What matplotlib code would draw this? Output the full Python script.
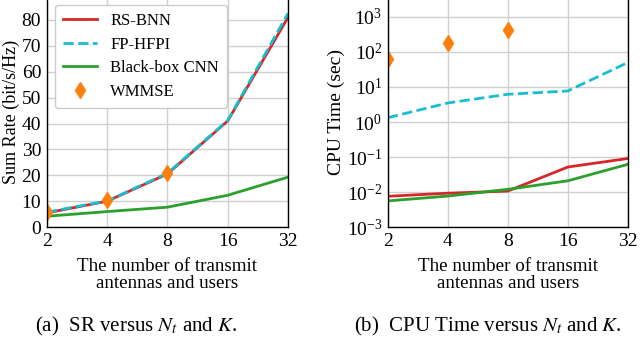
import matplotlib
matplotlib.use("Agg")
import matplotlib.pyplot as plt
import numpy as np

plt.rcParams['font.family'] = ['Liberation Serif', 'DejaVu Serif']
plt.rcParams['mathtext.fontset'] = 'stix'

# antenna / user counts
n_values = [2, 4, 8, 16, 32]
n_labels = ['2', '4', '8', '16', '32']

# sum rate (bit/s/Hz)
sr_rsbnn = [5.5, 10.0, 20.5, 41.0, 81.0]
sr_fphfpi = [5.8, 10.1, 20.8, 41.2, 82.5]
sr_cnn = [4.2, 6.0, 7.7, 12.3, 19.3]
sr_wmmse = [6.0, 10.5, 20.8]

# cpu time (sec)
t_rsbnn = [0.0076, 0.0093, 0.0107, 0.052, 0.091]
t_fphfpi = [1.33, 3.5, 6.2, 7.7, 50.0]
t_cnn = [0.0056, 0.0077, 0.012, 0.021, 0.062]
t_wmmse = [65.0, 180.0, 435.0]

red = '#d62728'
cyan = '#17becf'
green = '#2ca02c'
orange = '#ff7f0e'

fig = plt.figure(figsize=(6.4, 3.39), dpi=100)
ax1 = fig.add_axes([0.073, 0.330, 0.377, 0.68])
ax2 = fig.add_axes([0.606, 0.330, 0.375, 0.68])

wm_n = n_values[:len(sr_wmmse)]

ax1.plot(n_values, sr_rsbnn, color=red, lw=2, label='RS-BNN')
ax1.plot(n_values, sr_fphfpi, color=cyan, lw=2, ls='--', label='FP-HFPI')
ax1.plot(n_values, sr_cnn, color=green, lw=2, label='Black-box CNN')
ax1.plot(wm_n, sr_wmmse, ls='none', marker='d', color=orange, ms=8, label='WMMSE')
ax1.set_ylim(0, 89)
ax1.set_yticks(np.arange(0, 81, 10))
ax1.set_ylabel('Sum Rate (bit/s/Hz)', fontsize=13, labelpad=1)
leg = ax1.legend(loc='upper left', fontsize=12, handlelength=2.0, borderpad=0.5,
                 labelspacing=0.45, framealpha=1)

ax2.plot(n_values, t_rsbnn, color=red, lw=2)
ax2.plot(n_values, t_fphfpi, color=cyan, lw=2, ls='--')
ax2.plot(n_values, t_cnn, color=green, lw=2)
ax2.plot(wm_n, t_wmmse, ls='none', marker='d', color=orange, ms=8)
ax2.set_yscale('log')
ax2.set_ylim(1e-3, 3800)
ax2.set_yticks([1e-3, 1e-2, 1e-1, 1e0, 1e1, 1e2, 1e3])
ax2.minorticks_off()
ax2.set_ylabel('CPU Time (sec)', fontsize=14, labelpad=1)

for ax in (ax1, ax2):
    ax.set_xscale('log', base=2)
    ax.set_xlim(2, 32)
    ax.set_xticks(n_values)
    ax.set_xticklabels(n_labels)
    ax.minorticks_off()
    ax.tick_params(labelsize=14, length=0, pad=4)
    ax.grid(True, color='#d0d0d0', lw=1)
    ax.set_axisbelow(True)
    ax.set_xlabel('The number of transmit\nantennas and users', fontsize=13.7,
                  linespacing=1.0, labelpad=6)
    for s in ax.spines.values():
        s.set_color('black')
        s.set_linewidth(1.0)

fig.text(0.2125, 0.038, r'(a)  SR versus $N_t$ and $K$.', ha='center', va='center',
         fontsize=15)
fig.text(0.7625, 0.038, r'(b)  CPU Time versus $N_t$ and $K$.', ha='center', va='center',
         fontsize=15)

fig.savefig('out.png', dpi=100)
